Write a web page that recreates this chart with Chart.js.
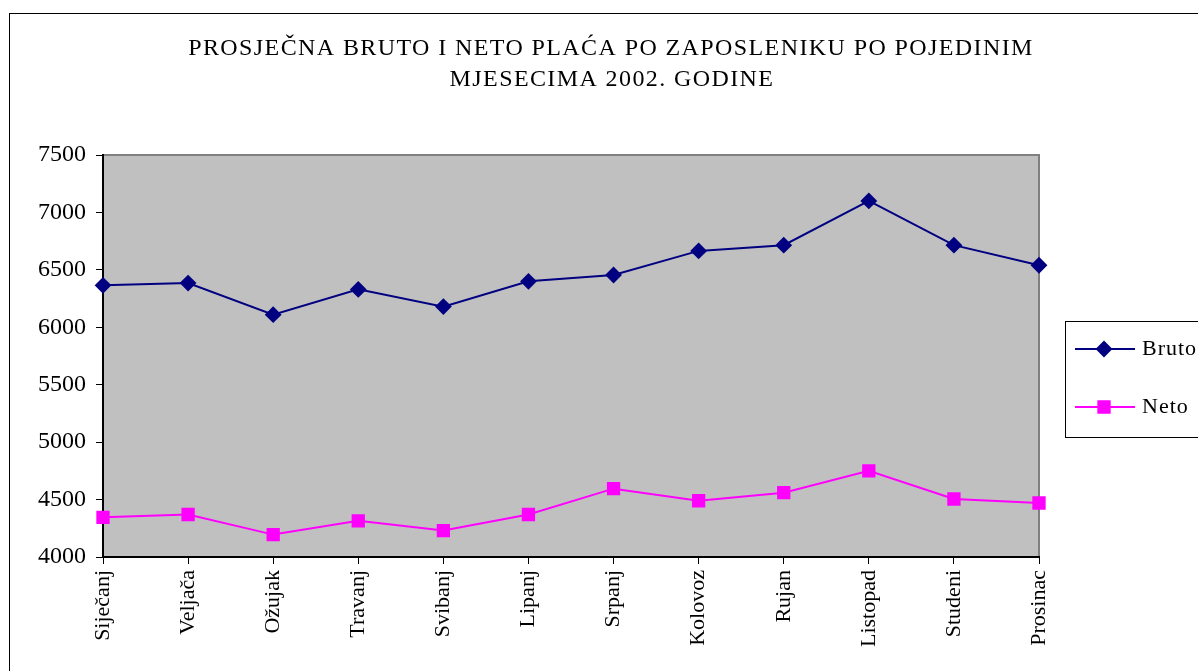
<!DOCTYPE html>
<html>
<head>
<meta charset="utf-8">
<script src="https://cdn.jsdelivr.net/npm/chart.js@4/dist/chart.umd.min.js"></script>
<style>
  html, body { margin: 0; padding: 0; background: #fff; }
  #wrap { width: 1198px; height: 671px; position: relative; }
</style>
</head>
<body>
<div id="wrap"><canvas id="chart" width="1198" height="671"></canvas></div>
<script>
// ── data ────────────────────────────────────────────────────────────────────
const months = ['Siječanj', 'Veljača', 'Ožujak', 'Travanj', 'Svibanj', 'Lipanj',
                'Srpanj', 'Kolovoz', 'Rujan', 'Listopad', 'Studeni', 'Prosinac'];
const bruto = [6365, 6385, 6110, 6330, 6180, 6400, 6455, 6665, 6715, 7100, 6715, 6540];
const neto  = [4345, 4370, 4195, 4315, 4230, 4370, 4595, 4490, 4560, 4750, 4505, 4470];
const yTicks = [4000, 4500, 5000, 5500, 6000, 6500, 7000, 7500];
const titleLines = ['PROSJEČNA BRUTO I NETO PLAĆA PO ZAPOSLENIKU PO POJEDINIM',
                    'MJESECIMA 2002. GODINE'];

const SERIF = "'Liberation Serif', 'DejaVu Serif', serif";

// grey plot area, frame, outer border, title and legend
const framePlugin = {
  id: 'frame',
  beforeDraw(chart) {
    const { ctx, chartArea: a } = chart;
    ctx.save();
    ctx.fillStyle = '#fff';
    ctx.fillRect(0, 0, chart.width, chart.height);
    ctx.strokeStyle = '#000';
    ctx.lineWidth = 1;
    ctx.strokeRect(9.5, 13.5, chart.width + 20, chart.height + 20);
    ctx.fillStyle = '#c0c0c0';
    ctx.fillRect(a.left, a.top, a.right - a.left, a.bottom - a.top);
    ctx.strokeStyle = '#808080';
    ctx.lineWidth = 2;
    ctx.beginPath();
    ctx.moveTo(a.left, a.top);
    ctx.lineTo(a.right, a.top);
    ctx.lineTo(a.right, a.bottom);
    ctx.stroke();
    ctx.restore();
  },
  afterDraw(chart) {
    const { ctx } = chart;
    ctx.save();
    // title
    ctx.fillStyle = '#000';
    ctx.font = `24px ${SERIF}`;
    ctx.letterSpacing = '1.4px';
    ctx.textAlign = 'center';
    ctx.textBaseline = 'alphabetic';
    ctx.fillText(titleLines[0], 611, 55);
    ctx.fillText(titleLines[1], 612, 86);

    // legend box
    ctx.letterSpacing = '1px';
    ctx.strokeStyle = '#000';
    ctx.lineWidth = 1;
    ctx.strokeRect(1065.5, 321.5, 200, 116);
    const rowsY = [349, 407];
    chart.data.datasets.forEach((ds, i) => {
      const y = rowsY[i];
      ctx.strokeStyle = ds.borderColor;
      ctx.lineWidth = 2;
      ctx.beginPath();
      ctx.moveTo(1075, y);
      ctx.lineTo(1135, y);
      ctx.stroke();
      Chart.helpers.drawPoint(ctx, {
        pointStyle: ds.pointStyle,
        radius: ds.pointRadius,
        borderWidth: 1,
      }, 1104, y);
      ctx.fillStyle = ds.pointBackgroundColor;
      ctx.fill();
      ctx.fillStyle = '#000';
      ctx.font = `22px ${SERIF}`;
      ctx.textAlign = 'left';
      ctx.textBaseline = 'middle';
      ctx.fillText(ds.label, 1142, y);
    });
    ctx.restore();
  },
};

new Chart(document.getElementById('chart'), {
  type: 'line',
  data: {
    labels: months,
    datasets: [
      {
        label: 'Bruto',
        data: bruto,
        borderColor: '#000080',
        backgroundColor: '#000080',
        pointBackgroundColor: '#000080',
        pointBorderColor: '#000080',
        pointStyle: 'rectRot',
        pointRadius: 7,
        borderWidth: 2,
        tension: 0,
      },
      {
        label: 'Neto',
        data: neto,
        borderColor: '#ff00ff',
        backgroundColor: '#ff00ff',
        pointBackgroundColor: '#ff00ff',
        pointBorderColor: '#ff00ff',
        pointStyle: 'rect',
        pointRadius: 8,
        borderWidth: 2,
        tension: 0,
      },
    ],
  },
  options: {
    responsive: false,
    animation: false,
    layout: { padding: { left: 0, right: 159, top: 155, bottom: 0 } },
    plugins: {
      legend: { display: false },
      title: { display: false },
      tooltip: { enabled: false },
    },
    scales: {
      x: {
        offset: false,
        afterFit: (s) => { s.height = 114; },
        grid: {
          drawOnChartArea: false,
          drawTicks: true,
          tickLength: 7,
          color: '#000',
          offset: false,
        },
        border: { color: '#000', width: 2 },
        ticks: {
          autoSkip: false,
          minRotation: 90,
          maxRotation: 90,
          padding: 6,
          color: '#000',
          font: { family: SERIF, size: 22 },
        },
      },
      y: {
        min: yTicks[0],
        max: yTicks[yTicks.length - 1],
        afterFit: (s) => { s.width = 103; },
        afterBuildTicks: (s) => { s.ticks = yTicks.map(v => ({ value: v })); },
        grid: {
          drawOnChartArea: false,
          drawTicks: true,
          tickLength: 7,
          color: '#000',
        },
        border: { color: '#000', width: 2 },
        ticks: {
          padding: 10,
          color: '#000',
          font: { family: SERIF, size: 24 },
          callback: (v) => String(v),
        },
      },
    },
  },
  plugins: [framePlugin],
});
</script>
</body>
</html>
